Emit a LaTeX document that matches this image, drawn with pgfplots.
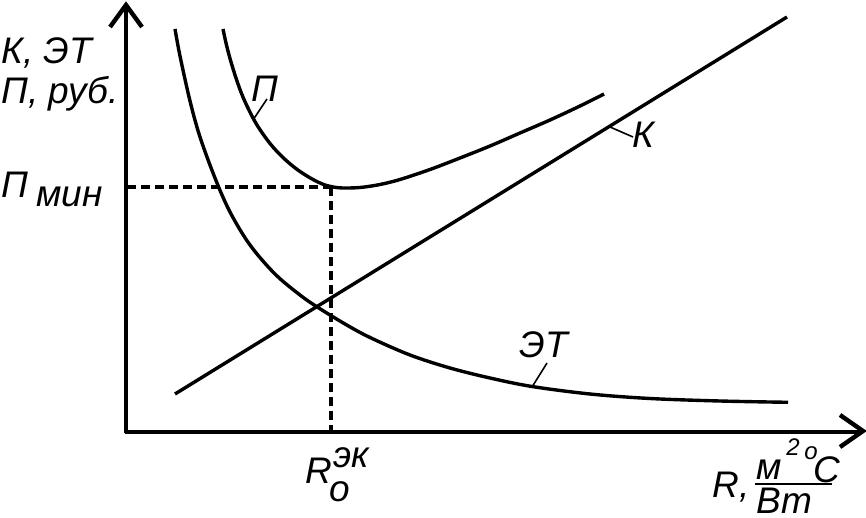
\documentclass[border=0pt]{standalone}
\usepackage{pgfplots}
\pgfplotsset{compat=1.18}
\usepackage{fontspec}
\setmainfont{Liberation Sans}
\newcommand\lab{\fontsize{18.5}{20}\selectfont\itshape}
\newcommand\labs{\fontsize{12}{14}\selectfont\itshape}
\begin{document}
\begin{tikzpicture}
\begin{axis}[
  scale only axis, width=433pt, height=259pt,
  xmin=0, xmax=866, ymin=0, ymax=518, y dir=reverse,
  hide axis, clip=false,
]
% axes
\draw[line width=2.2pt, line cap=butt] (axis cs:126,433) -- (axis cs:126,7);
\draw[line width=2.2pt, line join=miter] (axis cs:110,27) -- (axis cs:126,5) -- (axis cs:142,27);
\draw[line width=2.2pt, line cap=butt] (axis cs:125,432) -- (axis cs:860,432);
\draw[line width=2.2pt, line join=miter] (axis cs:840,415) -- (axis cs:863,431) -- (axis cs:840,447);
% dashed guides
\addplot[line width=1.6pt, dash pattern=on 4.5pt off 2.5pt] coordinates {(127,187) (331,187)};
\addplot[line width=1.6pt, dash pattern=on 4.5pt off 2.5pt] coordinates {(331,187) (331,432)};
% K line
\addplot[line width=1.7pt] coordinates {(175,394) (787,17)};
% ET curve
\addplot[line width=1.7pt, smooth, tension=0.55] coordinates {
(175,29) (180,56) (190,101) (200,137) (215,178) (230,212) (250,245) (275,274)
(300,295) (318,307.5) (345,324) (370,337.5) (410,355) (450,368) (490,378)
(532,386.5) (590,394) (650,398.5) (720,401) (788,402.3)};
% P curve
\addplot[line width=1.7pt, smooth, tension=0.55] coordinates {
(223,29) (226,43) (230,58.5) (235,75) (240,89.5) (245,101.7) (253,118)
(260,129.7) (270,143.5) (280,154.6) (290,163.8) (300,171.5) (313,179.5)
(325,185) (337,187.6) (348,188) (362,187.3) (380,184.5) (400,179.5)
(430,169.5) (460,158) (490,146) (520,133) (550,120) (580,106) (604,94)};
% leader lines
\draw[line width=0.8pt] (axis cs:267,99) -- (axis cs:253,120);
\draw[line width=0.8pt] (axis cs:610,127) -- (axis cs:633,137);
\draw[line width=0.8pt] (axis cs:547,363) -- (axis cs:532,387);
% curve labels
\node[anchor=base west, inner sep=0, font=\lab] at (axis cs:251,102) {П};
\node[anchor=base west, inner sep=0, font=\lab] at (axis cs:632,148) {К};
\node[anchor=base west, inner sep=0, font=\lab] at (axis cs:519,357) {ЭТ};
% y label
\node[anchor=base west, inner sep=0, font=\lab] at (axis cs:1,64) {К, ЭТ};
\node[anchor=base west, inner sep=0, font=\lab] at (axis cs:1,104) {П, руб.};
\node[anchor=base west, inner sep=0, font=\lab] at (axis cs:1,198) {П};
\node[anchor=base west, inner sep=0, font=\lab] at (axis cs:36,206) {мин};
% R_o^ek
\node[anchor=base west, inner sep=0, font=\lab] at (axis cs:305,483) {R};
\node[anchor=base west, inner sep=0, font=\lab] at (axis cs:329,501) {o};
\node[anchor=base west, inner sep=0, font=\lab] at (axis cs:333,467) {эк};
% x label
\node[anchor=base west, inner sep=0, font=\lab] at (axis cs:712,497) {R,};
\node[anchor=base west, inner sep=0, font=\lab] at (axis cs:756,479) {м};
\node[anchor=base west, inner sep=0, font=\labs] at (axis cs:786,455) {2};
\node[anchor=base west, inner sep=0, font=\labs] at (axis cs:804,459) {o};
\node[anchor=base west, inner sep=0, font=\lab] at (axis cs:813,482) {C};
\draw[line width=1.2pt] (axis cs:755,484) -- (axis cs:832,484);
\node[anchor=base west, inner sep=0, font=\lab] at (axis cs:756,513) {Bm};
\end{axis}
\pgfresetboundingbox
\useasboundingbox (current axis.south west) rectangle (current axis.north east);
\end{tikzpicture}
\end{document}
